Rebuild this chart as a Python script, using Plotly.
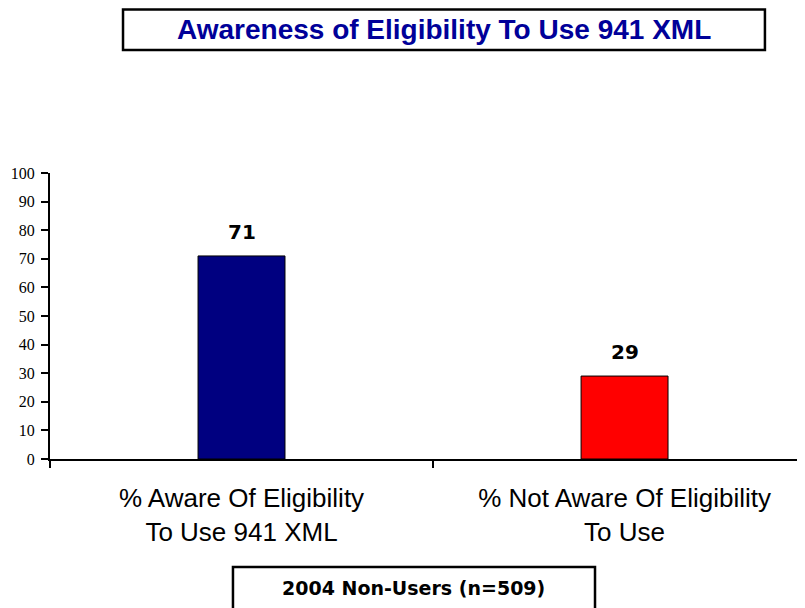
import plotly.graph_objects as go

# categories and values
categories = ["% Aware Of Eligibility<br>To Use 941 XML",
              "% Not Aware Of Eligibility<br>To Use"]
values = [71, 29]
bar_colors = ["#000080", "#FF0000"]
y_ticks = [0, 10, 20, 30, 40, 50, 60, 70, 80, 90, 100]

title_text = "Awareness of Eligibility To Use 941 XML"
footer_text = "2004 Non-Users (n=509)"

fig = go.Figure()
fig.add_trace(go.Bar(
    x=categories,
    y=values,
    width=0.227,
    marker=dict(color=bar_colors, line=dict(color="black", width=1)),
))

# value labels above the bars
for cat, val in zip(categories, values):
    fig.add_annotation(x=cat, y=val, text="<b>%d</b>" % val, showarrow=False,
                       xanchor="center", yanchor="bottom", yshift=10,
                       font=dict(family="DejaVu Sans", size=20, color="black"))

# the page body adds an 8px margin, so margins are reduced by that much
fig.update_layout(
    width=805, height=608,
    margin=dict(l=42, r=0, t=165, b=157),
    plot_bgcolor="white",
    paper_bgcolor="white",
    showlegend=False,
    xaxis=dict(
        range=[-0.5, 1.492], automargin=False,
        showline=True, linecolor="black", linewidth=1.5,
        ticks="outside", tickson="boundaries", ticklen=7, tickcolor="black", tickwidth=1.5,
        ticklabelstandoff=15,
        tickfont=dict(family="Liberation Sans, Arial, sans-serif", size=26, color="black"),
        showgrid=False, zeroline=False,
    ),
    yaxis=dict(
        range=[0, 100], automargin=False,
        tickvals=y_ticks,
        showline=True, linecolor="black", linewidth=2,
        ticks="outside", ticklen=7, tickcolor="black", tickwidth=1.5,
        ticklabelstandoff=3,
        tickfont=dict(family="Liberation Serif, serif", size=16, color="black"),
        showgrid=False, zeroline=False,
    ),
)

# title box
fig.add_shape(type="rect", xref="paper", yref="paper",
              x0=0.0957, x1=0.937, y0=1.430, y1=1.5717,
              line=dict(color="black", width=2.5), fillcolor="white", layer="below")
fig.add_annotation(text="<b>" + title_text + "</b>", xref="paper", yref="paper",
                   x=0.5164, y=1.503, xanchor="center", yanchor="middle", showarrow=False,
                   font=dict(family="Liberation Sans, Arial, sans-serif", size=28, color="#000099"))

# footer box
fig.add_shape(type="rect", xref="paper", yref="paper",
              x0=0.2398, x1=0.7143, y0=-0.535, y1=-0.3776,
              line=dict(color="black", width=2.5), fillcolor="white", layer="below")
fig.add_annotation(text="<b>" + footer_text + "</b>", xref="paper", yref="paper",
                   x=0.477, y=-0.451, xanchor="center", yanchor="middle", showarrow=False,
                   font=dict(family="DejaVu Sans", size=19, color="black"))

fig.write_html("out.html")
